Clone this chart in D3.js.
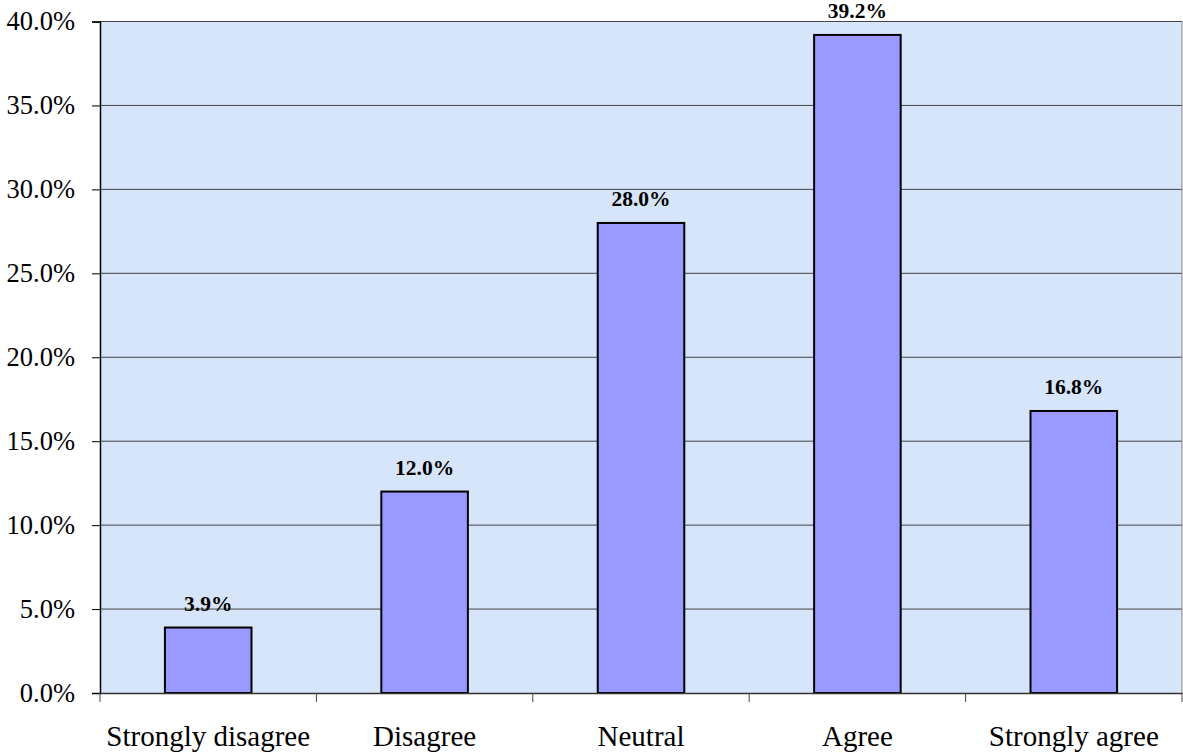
<!DOCTYPE html>
<html>
<head>
<script src="https://d3js.org/d3.v7.min.js"></script>
<style>
  body { margin: 0; background: #fff; }
  text { font-family: "Liberation Serif", "Times New Roman", serif; }
</style>
</head>
<body>
<svg id="chart"></svg>
<script>
// survey answers and their shares (%)
var categories = ["Strongly disagree", "Disagree", "Neutral", "Agree", "Strongly agree"];
var values = [3.9, 12.0, 28.0, 39.2, 16.8];
var yTicks = [0, 5, 10, 15, 20, 25, 30, 35, 40];

var W = 1183, H = 755;
var margin = {top: 21.5, right: 1, bottom: 62, left: 100},
    width = W - margin.left - margin.right,
    height = H - margin.top - margin.bottom;

var svg = d3.select("#chart")
    .attr("width", W)
    .attr("height", H);

var g = svg.append("g")
    .attr("transform", "translate(" + margin.left + "," + margin.top + ")");

var x = d3.scaleBand().domain(categories).range([0, width]).paddingInner(0.6).paddingOuter(0.3);
var band = d3.scaleBand().domain(categories).range([0, width]);
var y = d3.scaleLinear().domain([0, 40]).range([height, 0]);

// plot background
g.append("rect")
    .attr("width", width)
    .attr("height", height)
    .attr("fill", "#d6e5f9");

// gridlines
g.selectAll(".grid")
    .data(yTicks.slice(1))
    .enter().append("line")
    .attr("x1", 0).attr("x2", width)
    .attr("y1", function(d) { return y(d); })
    .attr("y2", function(d) { return y(d); })
    .attr("stroke", "#444")
    .attr("stroke-width", 1);

// right border
g.append("line")
    .attr("x1", width).attr("x2", width)
    .attr("y1", 0).attr("y2", height)
    .attr("stroke", "#888");

// bars
g.selectAll(".bar")
    .data(values)
    .enter().append("rect")
    .attr("class", "bar")
    .attr("x", function(d, i) { return x(categories[i]); })
    .attr("width", x.bandwidth())
    .attr("y", function(d) { return y(d); })
    .attr("height", function(d) { return height - y(d); })
    .attr("fill", "#9999ff")
    .attr("stroke", "#000")
    .attr("stroke-width", 2);

// value labels
g.selectAll(".lbl")
    .data(values)
    .enter().append("text")
    .attr("x", function(d, i) { return x(categories[i]) + x.bandwidth() / 2; })
    .attr("y", function(d) { return y(d) - 17; })
    .attr("text-anchor", "middle")
    .style("font-weight", "bold")
    .style("font-size", "21.5px")
    .text(function(d) { return d.toFixed(1) + "%"; });

// y axis
var yAxis = g.append("g")
    .call(d3.axisLeft(y).tickValues(yTicks).tickSize(8).tickPadding(17)
        .tickFormat(function(d) { return d.toFixed(1) + "%"; }));
yAxis.select(".domain").attr("stroke", "#000").attr("stroke-width", 1.5);
yAxis.selectAll(".tick line").attr("stroke", "#000");
yAxis.selectAll("text").style("font-size", "26.5px").attr("fill", "#000")
    .style("font-family", "'Liberation Serif', serif");

// x axis
var xAxis = g.append("g")
    .attr("transform", "translate(0," + height + ")")
    .call(d3.axisBottom(band).tickSize(0).tickPadding(32));
xAxis.select(".domain").attr("stroke", "#333").attr("stroke-width", 1.5);
xAxis.selectAll("text").style("font-size", "29px").attr("fill", "#000")
    .style("font-family", "'Liberation Serif', serif");

// category separator ticks
g.selectAll(".xtick")
    .data(d3.range(categories.length + 1))
    .enter().append("line")
    .attr("x1", function(i) { return i * band.step(); })
    .attr("x2", function(i) { return i * band.step(); })
    .attr("y1", height)
    .attr("y2", height + 9)
    .attr("stroke", "#444");
</script>
</body>
</html>
